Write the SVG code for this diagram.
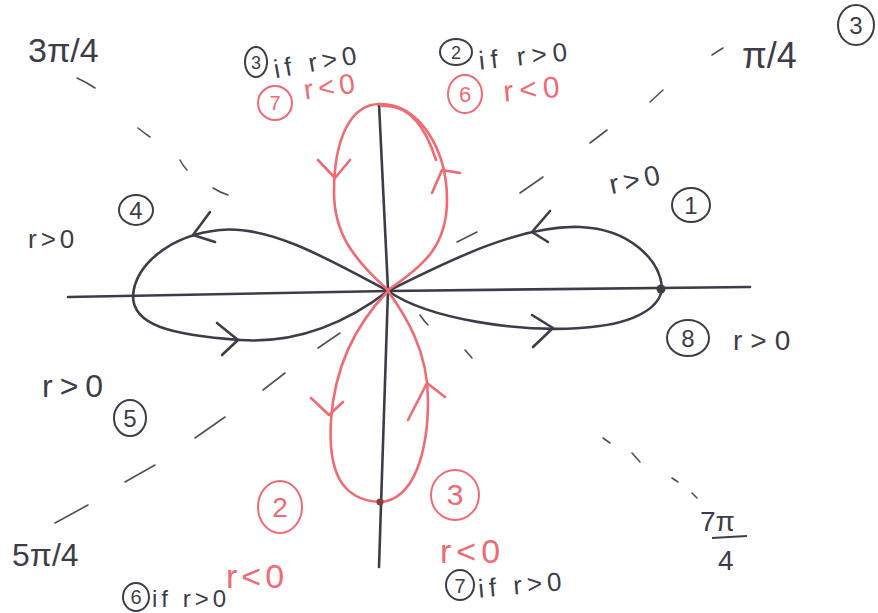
<svg xmlns="http://www.w3.org/2000/svg" width="878" height="613" viewBox="0 0 878 613">
<style>
.k{fill:none;stroke:#3d3d4a;stroke-width:2.6;stroke-linecap:round;stroke-linejoin:round}
.r{fill:none;stroke:#f06a74;stroke-width:2.6;stroke-linecap:round;stroke-linejoin:round}
.d{fill:none;stroke:#50505c;stroke-width:1.6;stroke-linecap:round}
.tk{fill:#3d3d4a;font-family:"Liberation Sans",Arial,sans-serif}
.tr{fill:#f06a74;font-family:"Liberation Sans",Arial,sans-serif}
.ck{fill:none;stroke:#3d3d4a;stroke-width:2}
.cr{fill:none;stroke:#f06a74;stroke-width:2}
</style>
<rect width="878" height="613" fill="#ffffff"/>
<g id="axes">
<path class="k" d="M68,297 L388,291 L750,287"/>
<path class="k" d="M379,104 L388,290 L379,567"/>
</g>
<g id="connectors">
<g id="dash-3pi4">
<path class="d" d="M213,188 Q221,193 228,195"/>
<path class="d" d="M180,160 Q183,166 187,170"/>
<path class="d" d="M138,128 Q144,133 150,137"/>
<path class="d" d="M77,78 Q86,82 95,88"/>
</g>
<g id="dash-pi4">
<path class="d" d="M457,242 L477,232"/>
<path class="d" d="M520,193 L543,177"/>
<path class="d" d="M590,143 L607,130"/>
<path class="d" d="M650,102 L663,90"/>
<path class="d" d="M712,55 L723,48"/>
</g>
<g id="dash-5pi4">
<path class="d" d="M318,348 L340,333"/>
<path class="d" d="M263,390 L285,373"/>
<path class="d" d="M195,438 L225,417"/>
<path class="d" d="M125,482 L155,465"/>
<path class="d" d="M55,523 L88,505"/>
</g>
<g id="dash-7pi4">
<path class="d" d="M420,315 Q424,321 428,325"/>
<path class="d" d="M465,350 L472,358"/>
<path class="d" d="M603,438 L610,443"/>
<path class="d" d="M632,453 L640,462"/>
<path class="d" d="M672,478 L678,482"/>
<path class="d" d="M692,493 L697,498"/>
</g>
</g>
<g id="lobe-right">
<path class="k" d="M388,291 C450,260 520,225 580,227 C630,229 660,260 662,288 C660,310 630,325 580,328 C520,332 430,320 388,291"/>
<polyline class="k" points="550,211 532,232 548,242"/>
<polyline class="k" points="532,315 553,328 533,347"/>
<circle cx="661" cy="289" r="4.5" fill="#3d3d4a"/>
</g>
<g id="lobe-left">
<path class="k" d="M388,291 C330,260 270,225 220,230 C170,235 135,265 133,296 C133,325 170,335 240,340 C300,344 350,320 388,291"/>
<polyline class="k" points="210,212 193,235 215,242"/>
<polyline class="k" points="217,323 238,340 222,355"/>
</g>
<g id="lobe-top">
<path class="r" d="M388,290 C352,258 334,232 334,192 C334,140 350,104 380,104 C420,104 447,150 447,200 C447,245 425,265 388,290"/>
<path class="r" d="M382,106 C408,104 425,125 436,160" stroke-width="1.4"/>
<polyline class="r" points="318,160 335,178 350,160"/>
<polyline class="r" points="432,193 442,170 460,173"/>
</g>
<g id="lobe-bottom">
<path class="r" d="M388,291 C360,320 335,360 331,420 C328,470 340,500 380,502 C415,500 428,450 428,400 C428,350 405,315 388,291"/>
<polyline class="r" points="311,398 329,415 343,402"/>
<polyline class="r" points="408,420 427,383 445,397"/>
<circle cx="380" cy="502" r="3.5" fill="#8a3a40"/>
</g>
<g id="label-3pi4"><text class="tk" x="28" y="62" font-size="34">3π/4</text></g>
<g id="label-pi4"><text class="tk" x="742" y="68" font-size="36">π/4</text></g>
<g id="label-5pi4"><text class="tk" x="12" y="566" font-size="32">5π/4</text></g>
<g id="label-7pi4">
<text class="tk" x="700" y="531" font-size="28">7π</text>
<line x1="712" y1="538" x2="747" y2="536" stroke="#3d3d4a" stroke-width="2"/>
<text class="tk" x="718" y="570" font-size="28">4</text>
</g>
<g id="label-c3-corner">
<ellipse class="ck" cx="856" cy="25" rx="18" ry="20"/>
<text class="tk" x="856" y="34" font-size="24" text-anchor="middle">3</text>
</g>
<g id="label-q1">
<text class="tk" x="608" y="188" font-size="28" letter-spacing="5" transform="rotate(-12 640 175)">r&gt;0</text>
<ellipse class="ck" cx="691" cy="205" rx="19" ry="17"/>
<text class="tk" x="691" y="214" font-size="24" text-anchor="middle">1</text>
</g>
<g id="label-q8">
<ellipse class="ck" cx="688" cy="338" rx="21" ry="18"/>
<text class="tk" x="688" y="347" font-size="24" text-anchor="middle">8</text>
<text class="tk" x="733" y="350" font-size="28" letter-spacing="8">r&gt;0</text>
</g>
<g id="label-q4">
<ellipse class="ck" cx="136" cy="210" rx="17" ry="15"/>
<text class="tk" x="136" y="219" font-size="24" text-anchor="middle">4</text>
<text class="tk" x="28" y="248" font-size="26" letter-spacing="4">r&gt;0</text>
</g>
<g id="label-q5">
<text class="tk" x="42" y="397" font-size="32" letter-spacing="7">r&gt;0</text>
<ellipse class="ck" cx="130" cy="418" rx="16" ry="18"/>
<text class="tk" x="130" y="427" font-size="24" text-anchor="middle">5</text>
</g>
<g id="label-red2">
<ellipse class="cr" cx="280" cy="507" rx="22" ry="26"/>
<text class="tr" x="280" y="517" font-size="28" text-anchor="middle">2</text>
<text class="tr" x="226" y="588" font-size="34" letter-spacing="4">r&lt;0</text>
<ellipse class="ck" cx="136" cy="597" rx="13" ry="14"/>
<text class="tk" x="136" y="604" font-size="20" text-anchor="middle">6</text>
<text class="tk" x="152" y="607" font-size="24" letter-spacing="4">if r&gt;0</text>
</g>
<g id="label-red3">
<ellipse class="cr" cx="455" cy="495" rx="24" ry="25"/>
<text class="tr" x="455" y="505" font-size="30" text-anchor="middle">3</text>
<text class="tr" x="440" y="563" font-size="34" letter-spacing="5">r&lt;0</text>
<ellipse class="ck" cx="460" cy="585" rx="14" ry="15"/>
<text class="tk" x="460" y="593" font-size="20" text-anchor="middle">7</text>
<text class="tk" x="478" y="594" font-size="26" letter-spacing="5" transform="rotate(-5 520 585)">if r&gt;0</text>
</g>
<g id="label-top-left">
<ellipse class="ck" cx="256" cy="62" rx="11" ry="15"/>
<text class="tk" x="256" y="69" font-size="18" text-anchor="middle">3</text>
<text class="tk" x="272" y="71" font-size="26" letter-spacing="5" transform="rotate(-10 315 55)">if r&gt;0</text>
<ellipse class="cr" cx="275" cy="103" rx="17" ry="17"/>
<text class="tr" x="275" y="110" font-size="20" text-anchor="middle">7</text>
<text class="tr" x="303" y="96" font-size="28" letter-spacing="5" transform="rotate(-8 330 82)">r&lt;0</text>
</g>
<g id="label-top-right">
<ellipse class="ck" cx="456" cy="52" rx="16" ry="13"/>
<text class="tk" x="456" y="59" font-size="18" text-anchor="middle">2</text>
<text class="tk" x="478" y="65" font-size="26" letter-spacing="6" transform="rotate(-6 525 50)">if r&gt;0</text>
<ellipse class="cr" cx="465" cy="94" rx="17" ry="19"/>
<text class="tr" x="465" y="102" font-size="22" text-anchor="middle">6</text>
<text class="tr" x="503" y="99" font-size="30" letter-spacing="6" transform="rotate(-5 535 85)">r&lt;0</text>
</g>
</svg>
